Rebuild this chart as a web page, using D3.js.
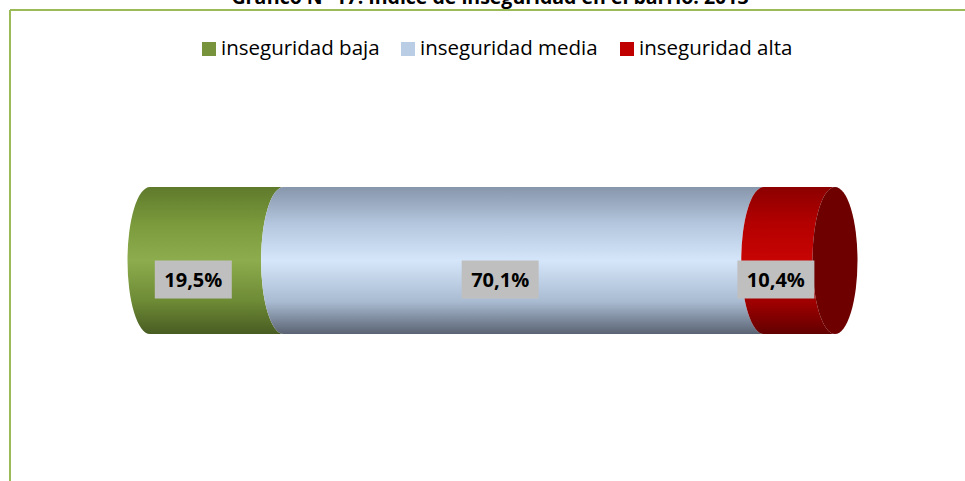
<!DOCTYPE html>
<html lang="es">
  <head>
    <meta charset="UTF-8" />
    <title>Índice de inseguridad en el barrio</title>
    <style>
      body { margin: 0; background: #fff; }
      svg { display: block; font-family: "Open Sans", "Noto Sans", sans-serif; }
    </style>
  </head>
  <body>
    <svg id="chart" width="965" height="481"></svg>

    <script src="https://d3js.org/d3.v7.min.js"></script>
    <script>
      // data
      const categories = ["inseguridad baja", "inseguridad media", "inseguridad alta"];
      const values = [19.5, 70.1, 10.4];
      const valueLabels = ["19,5%", "70,1%", "10,4%"];
      const colors = ["#77933c", "#b9cde5", "#c00000"];
      const title = "Gráfico Nº 17: Índice de inseguridad en el barrio. 2013";

      // shading stops per series (top, upper, middle, lower, bottom)
      const shades = [
        ["#5f7a2c", "#7a9a3c", "#8dac4d", "#6d8a35", "#485c22"],
        ["#8796ab", "#b3c6dd", "#d5e6fa", "#a9bbd1", "#5a6373"],
        ["#8c0000", "#b40000", "#c80404", "#a00000", "#620000"]
      ];

      const svg = d3.select("#chart");
      const width = 965;

      // frame of the chart area (only top and left edges visible)
      svg.append("line")
        .attr("x1", 10).attr("y1", 10).attr("x2", width).attr("y2", 10)
        .attr("stroke", "#9bbb59").attr("stroke-width", 2);
      svg.append("line")
        .attr("x1", 10).attr("y1", 10).attr("x2", 10).attr("y2", 481)
        .attr("stroke", "#9bbb59").attr("stroke-width", 2);

      // title, cut off at the top like in the source
      svg.append("text")
        .attr("x", 490).attr("y", 4)
        .attr("text-anchor", "middle")
        .attr("font-weight", "bold")
        .attr("font-size", 19.5)
        .attr("fill", "#000")
        .text(title);

      // legend
      const legendX = [202, 401, 620];
      const legend = svg.append("g")
        .selectAll("g")
        .data(categories)
        .join("g")
        .attr("transform", (d, i) => `translate(${legendX[i]}, 42)`);
      legend.append("rect")
        .attr("width", 14).attr("height", 14)
        .attr("fill", (d, i) => colors[i]);
      legend.append("text")
        .attr("x", 19).attr("y", 13)
        .attr("font-size", 20.5)
        .attr("fill", "#000")
        .text(d => d);

      // stacked cylinder
      const x = d3.scaleLinear().domain([0, 100]).range([150, 835]);
      const yTop = 187, yBottom = 334;
      const ry = (yBottom - yTop) / 2;
      const cy = yTop + ry;
      const rx = 22.5;

      let acc = 0;
      const segs = values.map((v, i) => {
        const s = { i, v, x0: acc, x1: acc + v };
        acc += v;
        return s;
      });

      const defs = svg.append("defs");
      shades.forEach((st, i) => {
        const g = defs.append("linearGradient")
          .attr("id", "grad" + i)
          .attr("x1", 0).attr("y1", 0).attr("x2", 0).attr("y2", 1);
        [0, 0.25, 0.5, 0.78, 1].forEach((o, k) => {
          g.append("stop").attr("offset", o).attr("stop-color", st[k]);
        });
      });

      function segPath(s) {
        const a = x(s.x0), b = x(s.x1);
        return `M${a},${yTop} L${b},${yTop} A${rx},${ry} 0 0 0 ${b},${yBottom}` +
          ` L${a},${yBottom} A${rx},${ry} 0 0 1 ${a},${yTop} Z`;
      }

      svg.append("g")
        .selectAll("path")
        .data(segs)
        .join("path")
        .attr("d", segPath)
        .attr("fill", d => `url(#grad${d.i})`);

      // right end cap
      svg.append("ellipse")
        .attr("cx", x(100)).attr("cy", cy)
        .attr("rx", rx).attr("ry", ry)
        .attr("fill", "#6e0000");

      // value labels
      const lab = svg.append("g")
        .selectAll("g")
        .data(segs)
        .join("g")
        .attr("transform", d => `translate(${x((d.x0 + d.x1) / 2) - rx - 1}, ${cy + 19})`);
      lab.append("rect")
        .attr("x", -38.5).attr("y", -19)
        .attr("width", 77).attr("height", 38)
        .attr("fill", "#bfbfbf");
      lab.append("text")
        .attr("text-anchor", "middle")
        .attr("dy", "0.36em")
        .attr("font-weight", "bold")
        .attr("font-size", 20)
        .attr("fill", "#000")
        .text(d => valueLabels[d.i]);
    </script>
  </body>
</html>
